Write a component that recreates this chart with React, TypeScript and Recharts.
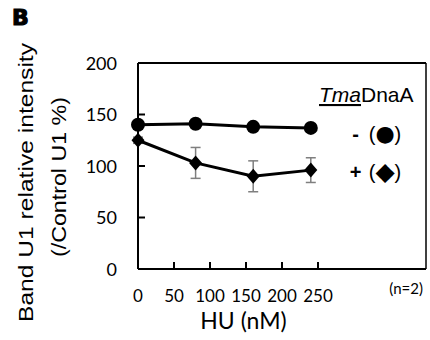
import { LineChart, Line, XAxis, YAxis, ErrorBar, ReferenceLine } from "recharts";

const huConc = [0, 80, 160, 240];
const minusMean = [140, 141, 138, 137];
const minusErr = [2, 2, 2, 3];
const plusMean = [125, 103, 90, 96];
const plusErr = [3, 15, 15, 12];
const xTicks = [0, 50, 100, 150, 200, 250];
const yTicks = [0, 50, 100, 150, 200];

const data = huConc.map((x, i) => ({
  x,
  minus: minusMean[i],
  minusErr: minusErr[i],
  plus: plusMean[i],
  plusErr: plusErr[i],
}));

const tickFont = "Lato, 'Liberation Sans', sans-serif";
const arial = "'Liberation Sans', Arial, sans-serif";

function XTick(props: any) {
  const { x, y, payload } = props;
  return (
    <g>
      {payload.value !== 0 && (
        <line x1={x} y1={y} x2={x} y2={y - 7} stroke="#000" strokeWidth={2} />
      )}
      <text x={x} y={y + 33} textAnchor="middle" fontFamily={tickFont} fontSize={17} fill="#000">
        {payload.value}
      </text>
    </g>
  );
}

function YTick(props: any) {
  const { x, y, payload } = props;
  const v = payload.value;
  return (
    <g>
      {v !== 0 && v !== 200 && (
        <line x1={x} y1={y} x2={x + 7} y2={y} stroke="#000" strokeWidth={2} />
      )}
      <text x={x - 21} y={y + 6.5} textAnchor="end" fontFamily={tickFont} fontSize={18} fill="#000">
        {v}
      </text>
    </g>
  );
}

const circleDot = (p: any) => (
  <circle key={`c-${p.index}`} cx={p.cx} cy={p.cy} r={7} fill="#000" />
);

const diamondDot = (p: any) => (
  <polygon
    key={`d-${p.index}`}
    points={`${p.cx},${p.cy - 7.5} ${p.cx + 6.5},${p.cy} ${p.cx},${p.cy + 7.5} ${p.cx - 6.5},${p.cy}`}
    fill="#000"
  />
);

export default function App() {
  return (
    <div style={{ position: "absolute", left: 0, top: 0, width: 430, height: 340, background: "#fff" }}>
      <LineChart
        width={430}
        height={340}
        data={data}
        margin={{ top: 63, right: 4, bottom: 41, left: 78 }}
      >
        <XAxis
          type="number"
          dataKey="x"
          domain={[0, 400]}
          ticks={xTicks}
          interval={0}
          height={30}
          tickSize={0}
          tickMargin={0}
          tickLine={false}
          tick={<XTick />}
          axisLine={{ stroke: "#000", strokeWidth: 2 }}
        />
        <YAxis
          type="number"
          domain={[0, 200]}
          ticks={yTicks}
          interval={0}
          width={60}
          tickSize={0}
          tickMargin={0}
          tickLine={false}
          tick={<YTick />}
          axisLine={{ stroke: "#000", strokeWidth: 2 }}
        />
        <ReferenceLine y={200} stroke="#000" strokeWidth={2} />
        <ReferenceLine x={400} stroke="#000" strokeWidth={1.5} />
        <Line
          dataKey="minus"
          stroke="#000"
          strokeWidth={3}
          dot={circleDot}
          activeDot={false}
          isAnimationActive={false}
        >
          <ErrorBar dataKey="minusErr" width={5} stroke="#7f7f7f" strokeWidth={1.5} direction="y" isAnimationActive={false} />
        </Line>
        <Line
          dataKey="plus"
          stroke="#000"
          strokeWidth={3}
          dot={diamondDot}
          activeDot={false}
          isAnimationActive={false}
        >
          <ErrorBar dataKey="plusErr" width={5} stroke="#7f7f7f" strokeWidth={1.5} direction="y" isAnimationActive={false} />
        </Line>
      </LineChart>
      <svg
        width={430}
        height={340}
        style={{ position: "absolute", left: 0, top: 0, pointerEvents: "none" }}
      >
        <text x={12} y={25} fontFamily="'DejaVu Sans', sans-serif" fontWeight="bold" fontSize={22} fill="#000" stroke="#000" strokeWidth={1.2}>
          B
        </text>
        <text
          transform="translate(33,182.5) rotate(-90)"
          textAnchor="middle"
          fontFamily={arial}
          fontSize={20.5}
          fill="#000"
          textLength={279}
          lengthAdjust="spacingAndGlyphs"
        >
          Band U1 relative intensity
        </text>
        <text
          transform="translate(65.5,177) rotate(-90)"
          textAnchor="middle"
          fontFamily={arial}
          fontSize={20.5}
          fill="#000"
          textLength={160}
          lengthAdjust="spacingAndGlyphs"
        >
          (/Control U1 %)
        </text>
        <text x={243.5} y={329} textAnchor="middle" fontFamily={tickFont} fontSize={23} fill="#000">
          HU (nM)
        </text>
        <text x={423} y={294} textAnchor="end" fontFamily={tickFont} fontSize={15} fill="#000">
          (n=2)
        </text>
        <text x={319} y={102} fontFamily={arial} fontSize={21} fill="#000">
          <tspan fontStyle="italic" style={{ textDecoration: "underline" }}>Tma</tspan>
          <tspan>DnaA</tspan>
        </text>
        <text x={355.5} y={141} textAnchor="middle" fontFamily={arial} fontWeight="bold" fontSize={20} fill="#000">
          -
        </text>
        <text x={385} y={141} textAnchor="middle" fontFamily={arial} fontSize={20} fill="#000">
          (<tspan fontFamily="'DejaVu Sans', sans-serif" fontSize={22}>●</tspan>)
        </text>
        <text x={355.5} y={179} textAnchor="middle" fontFamily={arial} fontWeight="bold" fontSize={20} fill="#000">
          +
        </text>
        <text x={385} y={179} textAnchor="middle" fontFamily={arial} fontSize={20} fill="#000">
          (<tspan fontFamily="'DejaVu Sans', sans-serif" fontSize={25} dy={1}>◆</tspan><tspan dy={-1}>)</tspan>
        </text>
      </svg>
    </div>
  );
}
